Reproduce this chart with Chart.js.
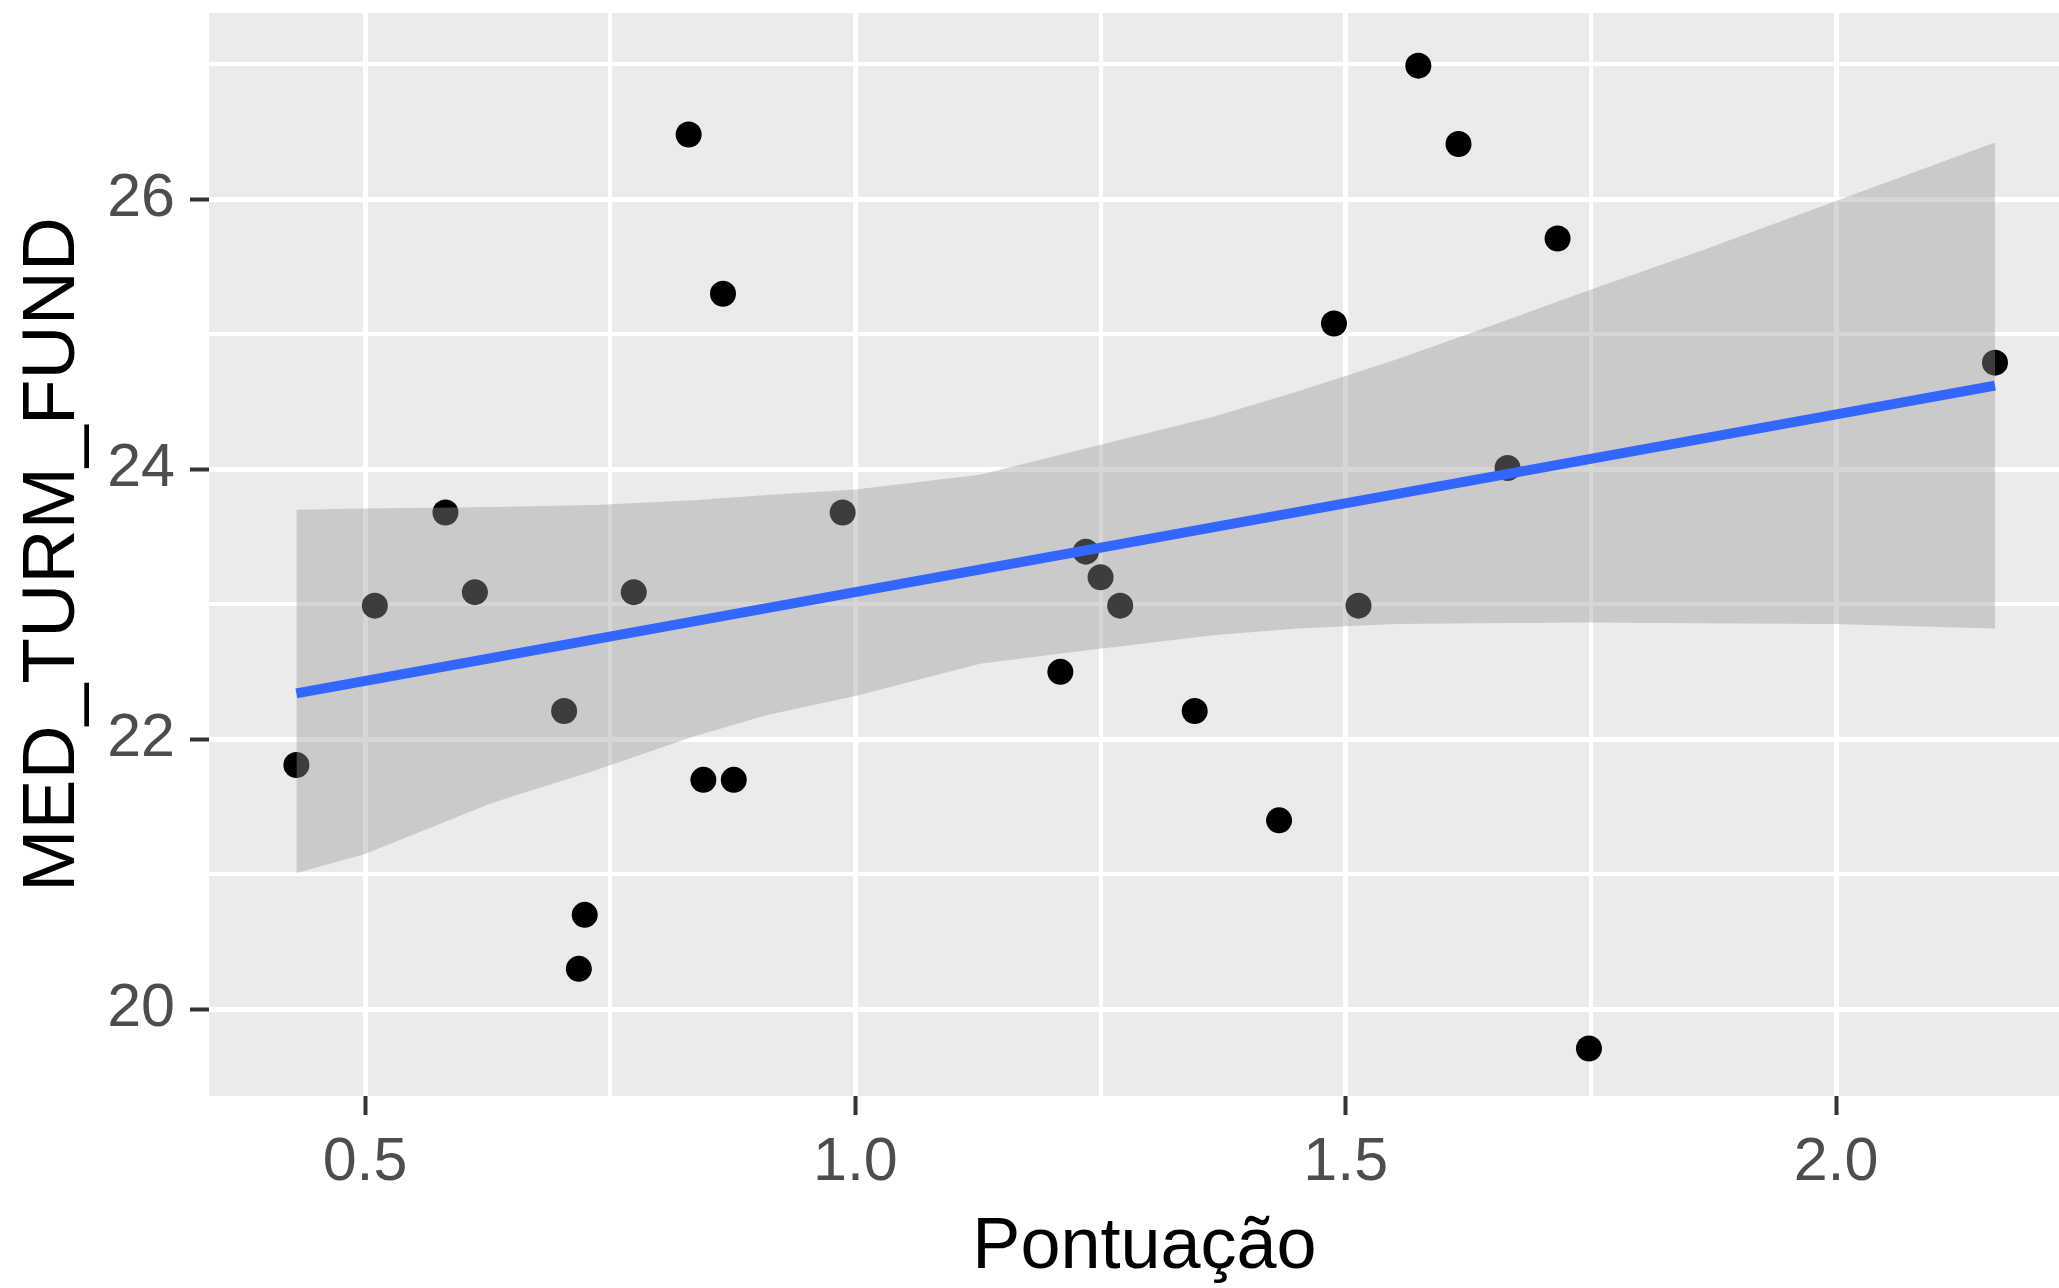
<!DOCTYPE html>
<html>
<head>
<meta charset="utf-8">
<title>MED_TURM_FUND x Pontuação</title>
<script src="https://cdn.jsdelivr.net/npm/chart.js@4.4.1/dist/chart.umd.min.js"></script>
<style>
  html, body { margin: 0; padding: 0; background: #fff; overflow: hidden; }
  #wrap { width: 2080px; height: 1288px; position: relative; }
  canvas { display: block; }
</style>
</head>
<body>
<div id="wrap"><canvas id="chart" width="2080" height="1288"></canvas></div>
<script>
// pontos (Pontuação, MED_TURM_FUND)
const pontuacao = [0.430, 0.510, 0.582, 0.612, 0.703, 0.718, 0.724, 0.774, 0.830, 0.845, 0.865, 0.876, 0.987,
  1.209, 1.235, 1.250, 1.270, 1.346, 1.432, 1.488, 1.513, 1.574, 1.615, 1.665, 1.716, 1.748, 2.162];
const medTurmFund = [21.81, 22.99, 23.68, 23.09, 22.21, 20.30, 20.70, 23.09, 26.48, 21.70, 25.30, 21.70, 23.68,
  22.50, 23.39, 23.20, 22.99, 22.21, 21.40, 25.08, 22.99, 26.99, 26.41, 24.01, 25.71, 19.71, 24.79];

// reta ajustada (lm) e faixa de confiança
const fitX = [0.430, 2.162];
const fitY = [22.34, 24.62];
const bandX =     [0.430, 0.500, 0.630, 0.735, 0.835, 0.910, 1.000, 1.127, 1.249, 1.365, 1.450, 1.550, 1.632, 1.746, 1.861, 1.997, 2.162];
const bandUpper = [23.70, 23.71, 23.72, 23.735, 23.77, 23.81, 23.85, 23.96, 24.18, 24.39, 24.575, 24.81, 25.02, 25.32, 25.615, 25.98, 26.42];
const bandLower = [21.01, 21.15, 21.53, 21.77, 22.02, 22.18, 22.32, 22.56, 22.67, 22.77, 22.82, 22.855, 22.86, 22.865, 22.86, 22.855, 22.82];

const xMajor = [0.5, 1.0, 1.5, 2.0];
const xMinor = [0.75, 1.25, 1.75];
const yMajor = [20, 22, 24, 26];
const yMinor = [21, 23, 25, 27];

const FONT = "'Liberation Sans', Arial, sans-serif";

const toXY = (xs, ys) => xs.map((x, i) => ({ x, y: ys[i] }));

const panelBg = {
  id: 'panelBg',
  beforeDraw(chart) {
    const a = chart.chartArea;
    const ctx = chart.ctx;
    ctx.save();
    ctx.fillStyle = '#EBEBEB';
    ctx.fillRect(a.left, a.top, a.right - a.left, a.bottom - a.top);
    ctx.restore();
  }
};

function axisOpts(major, minor, min, max, fmt) {
  const all = major.concat(minor).sort((a, b) => a - b);
  const isMajor = ctx => ctx.tick && major.includes(ctx.tick.value);
  return {
    type: 'linear',
    min, max,
    afterBuildTicks: s => { s.ticks = all.map(v => ({ value: v })); },
    border: { display: false },
    grid: {
      color: '#FFFFFF',
      lineWidth: ctx => isMajor(ctx) ? 5 : 4,
      drawTicks: true,
      tickLength: 19,
      tickWidth: 4,
      tickColor: ctx => isMajor(ctx) ? '#333333' : 'rgba(0,0,0,0)'
    },
    ticks: {
      autoSkip: false,
      maxRotation: 0,
      color: '#4D4D4D',
      font: { family: FONT, size: 61, lineHeight: 1 },
      callback: v => major.includes(v) ? fmt(v) : ''
    }
  };
}

// sem folgas automáticas: a área do painel fica onde está na figura
function noPad(s) {
  s.paddingTop = 0; s.paddingBottom = 0;
  s.paddingLeft = 0; s.paddingRight = 0;
}

const xScale = axisOpts(xMajor, xMinor, 0.3409, 2.2487, v => v.toFixed(1));
xScale.ticks.padding = 18;
xScale.afterFit = s => { s.height = 192; noPad(s); };
xScale.title = {
  display: true, text: 'Pontuação', color: '#000',
  font: { family: FONT, size: 72, lineHeight: 1 },
  padding: { top: 0, bottom: 4 }
};

const yScale = axisOpts(yMajor, yMinor, 19.358, 27.380, v => String(v));
yScale.ticks.padding = 15;
yScale.afterFit = s => { s.width = 209; noPad(s); };
yScale.title = {
  display: true, text: 'MED_TURM_FUND', color: '#000',
  font: { family: FONT, size: 75, lineHeight: 1 },
  padding: { top: 16, bottom: 0 }
};

new Chart(document.getElementById('chart'), {
  type: 'scatter',
  data: {
    datasets: [
      {
        label: 'pontos',
        data: toXY(pontuacao, medTurmFund),
        backgroundColor: '#000000',
        borderWidth: 0,
        pointRadius: 13,
        order: 4
      },
      {
        label: 'ic_sup',
        data: toXY(bandX, bandUpper),
        showLine: true,
        borderWidth: 0,
        borderColor: 'rgba(0,0,0,0)',
        pointRadius: 0,
        fill: '+1',
        backgroundColor: 'rgba(153,153,153,0.4)',
        order: 2
      },
      {
        label: 'ic_inf',
        data: toXY(bandX, bandLower),
        showLine: true,
        borderWidth: 0,
        borderColor: 'rgba(0,0,0,0)',
        pointRadius: 0,
        fill: false,
        order: 3
      },
      {
        label: 'lm',
        data: toXY(fitX, fitY),
        showLine: true,
        borderColor: '#3366FF',
        borderWidth: 10,
        pointRadius: 0,
        fill: false,
        order: 1
      }
    ]
  },
  options: {
    responsive: false,
    devicePixelRatio: 1,
    animation: false,
    layout: { autoPadding: false, padding: { top: 13, left: 0, right: 0, bottom: 0 } },
    plugins: { legend: { display: false }, tooltip: { enabled: false } },
    scales: { x: xScale, y: yScale }
  },
  plugins: [panelBg]
});
</script>
</body>
</html>
